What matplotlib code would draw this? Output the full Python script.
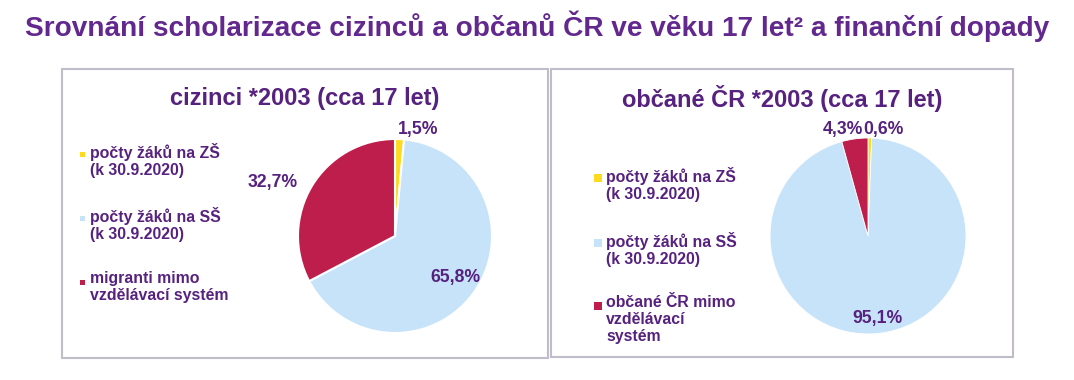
import matplotlib.pyplot as plt
from matplotlib.patches import Rectangle

# data
cizinci_labels = ['počty žáků na ZŠ\n(k 30.9.2020)', 'počty žáků na SŠ\n(k 30.9.2020)',
                  'migranti mimo\nvzdělávací systém']
cizinci_values = [1.5, 65.8, 32.7]
obcane_labels = ['počty žáků na ZŠ\n(k 30.9.2020)', 'počty žáků na SŠ\n(k 30.9.2020)',
                 'občané ČR mimo\nvzdělávací\nsystém']
obcane_values = [0.6, 95.1, 4.3]
colors = ['#FDDA1E', '#C7E3FA', '#BE1E4B']

title = 'Srovnání scholarizace cizinců a občanů ČR ve věku 17 let² a finanční dopady'
title_left = 'cizinci *2003 (cca 17 let)'
title_right = 'občané ČR *2003 (cca 17 let)'

plt.rcParams['font.family'] = ['Liberation Sans', 'DejaVu Sans']
purple = '#56217F'
W, H = 1074, 380

fig = plt.figure(figsize=(W / 100, H / 100), dpi=100)

# overlay v pixelech (y dolů)
ov = fig.add_axes([0, 0, 1, 1])
ov.set_xlim(0, W)
ov.set_ylim(H, 0)
ov.axis('off')

# rámečky panelů
ov.add_patch(Rectangle((62, 69), 486, 289, fill=False, ec='#C0BDC9', lw=1.5))
ov.add_patch(Rectangle((551, 69), 462, 288, fill=False, ec='#C0BDC9', lw=1.5))

# hlavní nadpis - zúžit na šířku
t = ov.text(537, 26, title, ha='center', va='center', fontsize=21, fontweight='bold',
            color='#63288E', family=['Liberation Sans Narrow', 'Liberation Sans', 'DejaVu Sans'])
fig.canvas.draw()
w = t.get_window_extent().width
if w > 1022:
    t.set_fontsize(21 * 1022 / w)

ov.text(305, 99, title_left, ha='center', va='center', fontsize=17, fontweight='bold', color=purple)
ov.text(782, 99, title_right, ha='center', va='center', fontsize=17, fontweight='bold', color=purple)


def draw_pie(cx, cy, r, values, lbl_pos, lw):
    ax = fig.add_axes([(cx - r) / W, (H - cy - r) / H, 2 * r / W, 2 * r / H])
    wedges, _ = ax.pie(values, colors=colors, startangle=90, counterclock=False,
                       wedgeprops=dict(edgecolor='white', linewidth=lw))
    ax.set_xlim(-1, 1)
    ax.set_ylim(-1, 1)
    ax.set_aspect('auto')
    for v, (x, y) in zip(values, lbl_pos):
        ax.text(x, y, f'{v:.1f}%'.replace('.', ','), ha='center', va='center',
                fontsize=12.7, fontweight='bold', color=purple, clip_on=False)
    return ax


draw_pie(395, 236, 97, cizinci_values, [(0.24, 1.10), (0.62, -0.43), (-1.26, 0.55)], 1.5)
draw_pie(868, 236, 98, obcane_values, [(0.155, 1.09), (0.10, -0.84), (-0.26, 1.09)], 0.6)


def draw_legend(x_marker, x_text, ys, labels, msize):
    for y, lab, c in zip(ys, labels, colors):
        ov.add_patch(Rectangle((x_marker - msize / 2, y - msize / 2), msize, msize, color=c, lw=0))
        ov.text(x_text, y - 11, lab, ha='left', va='top', fontsize=11.4, fontweight='bold',
                color=purple, linespacing=1.18)


draw_legend(82.5, 90, [154, 218, 282], cizinci_labels, 5)
draw_legend(598, 606, [178, 243, 306], obcane_labels, 8)

fig.savefig('out.png', dpi=100)
